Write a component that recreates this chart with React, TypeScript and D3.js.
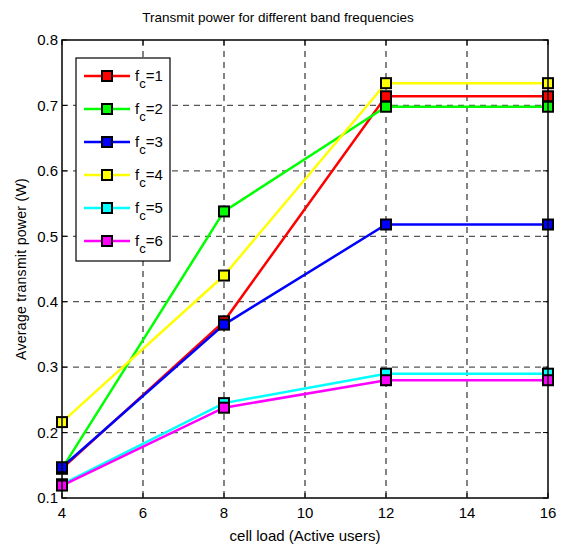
import React from 'react';
import * as d3 from 'd3';

// cell load (active users)
const loads = [4, 8, 12, 16];

// average transmit power (W) per band frequency
const fc1 = [0.145, 0.37, 0.714, 0.714];
const fc2 = [0.145, 0.538, 0.698, 0.698];
const fc3 = [0.147, 0.365, 0.518, 0.518];
const fc4 = [0.216, 0.44, 0.734, 0.734];
const fc5 = [0.121, 0.245, 0.29, 0.29];
const fc6 = [0.119, 0.238, 0.28, 0.28];

const seriesNames = ['1', '2', '3', '4', '5', '6'];
const seriesColors = ['#ff0000', '#00ff00', '#0000ff', '#ffff00', '#00ffff', '#ff00ff'];
const seriesValues = [fc1, fc2, fc3, fc4, fc5, fc6];

const xTicks = [4, 6, 8, 10, 12, 14, 16];
const yTicks = [0.1, 0.2, 0.3, 0.4, 0.5, 0.6, 0.7, 0.8];

const W = 572;
const H = 546;
const margin = { top: 40, right: 24, bottom: 48, left: 62 };
const innerW = W - margin.left - margin.right;
const innerH = H - margin.top - margin.bottom;

const font = '"Liberation Sans", Arial, sans-serif';

export default function App() {
  const x = d3.scaleLinear().domain([4, 16]).range([0, innerW]);
  const y = d3.scaleLinear().domain([0.1, 0.8]).range([innerH, 0]);

  const line = d3
    .line<number>()
    .x((_, i) => x(loads[i]))
    .y((d) => y(d));

  const series = seriesNames.map((name, i) => ({
    name,
    color: seriesColors[i],
    values: seriesValues[i],
  }));

  const m = 10; // marker size
  const tick = 5;

  return (
    <svg
      width={W}
      height={H}
      style={{ position: 'absolute', left: 0, top: 0, background: '#fff' }}
      fontFamily={font}
    >
      <text x={278} y={22} textAnchor="middle" fontSize={13.5} fill="#000">
        Transmit power for different band frequencies
      </text>

      <g transform={`translate(${margin.left},${margin.top})`}>
        {/* grid */}
        {xTicks.slice(1, -1).map((t) => (
          <line
            key={'gx' + t}
            x1={x(t)}
            x2={x(t)}
            y1={0}
            y2={innerH}
            stroke="#333"
            strokeWidth={1.2}
            strokeDasharray="6,5"
          />
        ))}
        {yTicks.slice(1, -1).map((t) => (
          <line
            key={'gy' + t}
            x1={0}
            x2={innerW}
            y1={y(t)}
            y2={y(t)}
            stroke="#555"
            strokeWidth={1.2}
            strokeDasharray="6,5"
          />
        ))}

        {/* ticks inside */}
        {xTicks.map((t) => (
          <g key={'tx' + t}>
            <line x1={x(t)} x2={x(t)} y1={innerH} y2={innerH - tick} stroke="#000" />
            <line x1={x(t)} x2={x(t)} y1={0} y2={tick} stroke="#000" />
            <text
              x={x(t)}
              y={innerH + 20}
              textAnchor="middle"
              fontSize={15}
              fill="#000"
            >
              {t}
            </text>
          </g>
        ))}
        {yTicks.map((t) => (
          <g key={'ty' + t}>
            <line x1={0} x2={tick} y1={y(t)} y2={y(t)} stroke="#000" />
            <line x1={innerW} x2={innerW - tick} y1={y(t)} y2={y(t)} stroke="#000" />
            <text
              x={-4}
              y={y(t)}
              dy="0.35em"
              textAnchor="end"
              fontSize={15}
              fill="#000"
            >
              {t.toFixed(1)}
            </text>
          </g>
        ))}

        {/* lines */}
        {series.map((s) => (
          <path
            key={'l' + s.name}
            d={line(s.values) ?? ''}
            fill="none"
            stroke={s.color}
            strokeWidth={2.5}
          />
        ))}
        {/* markers */}
        {series.map((s) =>
          s.values.map((v, i) => (
            <rect
              key={'m' + s.name + i}
              x={x(loads[i]) - m / 2}
              y={y(v) - m / 2}
              width={m}
              height={m}
              fill={s.color}
              stroke="#000"
              strokeWidth={2}
            />
          ))
        )}

        {/* frame */}
        <rect x={0} y={0} width={innerW} height={innerH} fill="none" stroke="#000" strokeWidth={1.5} />

        {/* legend */}
        <g transform="translate(14,18)">
          <rect x={0} y={0} width={94} height={203} fill="#fff" stroke="#000" strokeWidth={1.2} />
          {series.map((s, i) => {
            const ly = 18 + i * 33;
            return (
              <g key={'lg' + s.name}>
                <line x1={8} x2={54} y1={ly} y2={ly} stroke={s.color} strokeWidth={2.5} />
                <rect
                  x={31 - m / 2}
                  y={ly - m / 2}
                  width={m}
                  height={m}
                  fill={s.color}
                  stroke="#000"
                  strokeWidth={2}
                />
                <text x={59} y={ly + 5} fontSize={15} fill="#000">
                  f
                  <tspan fontSize={13} dy={7}>c</tspan>
                  <tspan dy={-7}>={s.name}</tspan>
                </text>
              </g>
            );
          })}
        </g>
      </g>

      <text
        x={margin.left + innerW / 2}
        y={541}
        textAnchor="middle"
        fontSize={15}
        fill="#000"
      >
        cell load (Active users)
      </text>
      <text
        transform={`translate(26,${margin.top + innerH / 2}) rotate(-90)`}
        textAnchor="middle"
        fontSize={14}
        letterSpacing={0.3}
        fill="#000"
      >
        Average transmit power (W)
      </text>
    </svg>
  );
}
